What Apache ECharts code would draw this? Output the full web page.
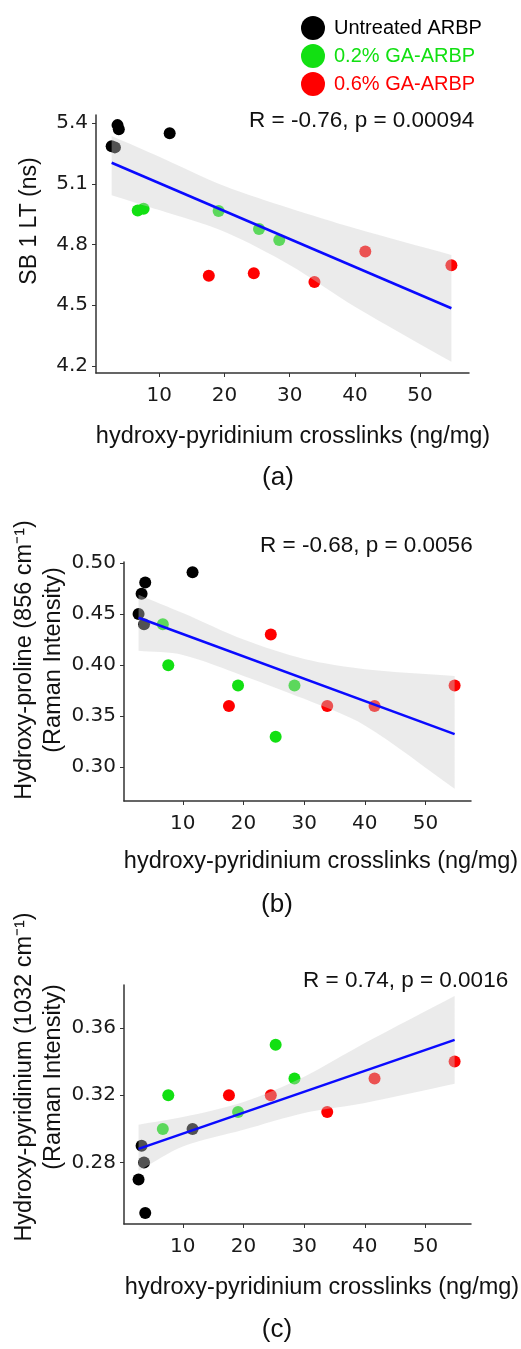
<!DOCTYPE html>
<html>
<head>
<meta charset="utf-8">
<script src="https://cdn.jsdelivr.net/npm/echarts@6/dist/echarts.min.js"></script>
<style>
  html, body { margin: 0; padding: 0; background: #fff; }
  #chart { width: 521px; height: 1349px; }
</style>
</head>
<body>
<div id="chart"></div>
<script>
// groups (legend)
const groups = ['Untreated ARBP', '0.2% GA-ARBP', '0.6% GA-ARBP'];

// x: hydroxy-pyridinium crosslinks (ng/mg), same samples in every panel
const untreatedX = [2.7, 3.2, 3.6, 3.8, 11.6];
const ga02X = [6.7, 7.6, 19.1, 25.3, 28.4];
const ga06X = [17.6, 24.5, 33.8, 41.6, 54.8];

// (a) SB 1 LT (ns)
const sbUntreated = [5.286, 5.28, 5.39, 5.37, 5.35];
const sbGa02 = [4.968, 4.977, 4.965, 4.877, 4.822];
const sbGa06 = [4.646, 4.658, 4.615, 4.766, 4.697];
// (b) Hydroxy-proline 856 cm-1
const hypUntreated = [0.45, 0.47, 0.44, 0.481, 0.491];
const hypGa02 = [0.44, 0.40, 0.38, 0.33, 0.38];
const hypGa06 = [0.36, 0.43, 0.36, 0.36, 0.38];
// (c) Hydroxy-pyridinium 1032 cm-1
const hpyUntreated = [0.27, 0.29, 0.28, 0.25, 0.30];
const hpyGa02 = [0.30, 0.32, 0.31, 0.35, 0.33];
const hpyGa06 = [0.32, 0.32, 0.31, 0.33, 0.34];

// fitted lines (ends)
const fitX = [2.7, 54.8];
const sbFit = [5.204, 4.485];
const hypFit = [0.4464, 0.3325];
const hpyFit = [0.2881, 0.3529];

// confidence band edges
const bandX = [2.7, 10, 20, 30, 40, 54.8];
const sbUpper = [5.336, 5.234, 5.089, 4.979, 4.880, 4.748];
const sbLower = [5.044, 4.970, 4.863, 4.699, 4.493, 4.221];
const hypUpper = [0.469, 0.451, 0.425, 0.406, 0.396, 0.3895];
const hypLower = [0.414, 0.410, 0.3895, 0.367, 0.341, 0.279];
const hpyUpper = [0.3025, 0.307, 0.316, 0.331, 0.351, 0.379];
const hpyLower = [0.275, 0.2895, 0.2995, 0.3095, 0.3154, 0.3268];

// tick labels
const xTicks = [10, 20, 30, 40, 50];
const sbTicks = [4.2, 4.5, 4.8, 5.1, 5.4];
const hypTicks = [0.30, 0.35, 0.40, 0.45, 0.50];
const hpyTicks = [0.28, 0.32, 0.36];

const stats = ['R = -0.76, p = 0.00094', 'R = -0.68, p = 0.0056', 'R = 0.74, p = 0.0016'];

const groupColors = ['#000000', '#12e012', '#ff0000'];
const xs = [untreatedX, ga02X, ga06X];

const panels = [
  { ys: [sbUntreated, sbGa02, sbGa06], fit: sbFit, upper: sbUpper, lower: sbLower,
    ticks: sbTicks, dec: 1, min: 4.165, max: 5.44,
    grid: { left: 96, top: 115, width: 373, height: 258 } },
  { ys: [hypUntreated, hypGa02, hypGa06], fit: hypFit, upper: hypUpper, lower: hypLower,
    ticks: hypTicks, dec: 2, min: 0.267, max: 0.501,
    grid: { left: 124, top: 562, width: 347, height: 239 } },
  { ys: [hpyUntreated, hpyGa02, hpyGa06], fit: hpyFit, upper: hpyUpper, lower: hpyLower,
    ticks: hpyTicks, dec: 2, min: 0.2435, max: 0.3855,
    grid: { left: 124, top: 985, width: 347, height: 239 } }
];

const axisColor = '#333';
const labelFont = { fontFamily: 'DejaVu Sans', fontSize: 20, color: '#1a1a1a' };
const textFont = 'Liberation Sans';

const series = [];
panels.forEach((p, i) => {
  groups.forEach((g, k) => {
    series.push({
      name: g, type: 'scatter', xAxisIndex: i, yAxisIndex: i, z: 2,
      symbolSize: 12,
      itemStyle: { color: groupColors[k], opacity: 1 },
      data: xs[k].map((x, j) => [x, p.ys[k][j]])
    });
  });
  // grey band drawn over the points, like the original
  series.push({
    type: 'custom', xAxisIndex: i, yAxisIndex: i, z: 3, silent: true,
    data: [[bandX[0], p.upper[0]]],
    renderItem: (params, api) => {
      const top = bandX.map((x, j) => api.coord([x, p.upper[j]]));
      const bot = bandX.map((x, j) => api.coord([x, p.lower[j]])).reverse();
      // repeat the four corners so the smoothing keeps the ends square
      const n = top.length - 1;
      const pts = [top[0]].concat(top, [top[n], bot[0]], bot, [bot[n]]);
      const box = [
        [Math.min(...pts.map(q => q[0])), Math.min(...pts.map(q => q[1]))],
        [Math.max(...pts.map(q => q[0])), Math.max(...pts.map(q => q[1]))]
      ];
      return {
        type: 'polygon',
        shape: { points: pts, smooth: 0.3, smoothConstraint: box },
        style: { fill: 'rgba(205,205,205,0.4)' }
      };
    }
  });
  series.push({
    type: 'line', xAxisIndex: i, yAxisIndex: i, z: 4, symbol: 'none',
    lineStyle: { color: '#0a0aff', width: 2.5 },
    data: fitX.map((x, j) => [x, p.fit[j]])
  });
});

const texts = [
  // stats
  { x: 249, y: 121, t: stats[0], size: 22.5 },
  { x: 260, y: 546, t: stats[1], size: 22.5 },
  { x: 303, y: 981, t: stats[2], size: 22.5 },
  // x titles
  { x: 293, y: 437, t: 'hydroxy-pyridinium crosslinks (ng/mg)', size: 23.5, align: 'center' },
  { x: 321, y: 862, t: 'hydroxy-pyridinium crosslinks (ng/mg)', size: 23.5, align: 'center' },
  { x: 322, y: 1288, t: 'hydroxy-pyridinium crosslinks (ng/mg)', size: 23.5, align: 'center' },
  // captions
  { x: 278, y: 478, t: '(a)', size: 26, align: 'center' },
  { x: 277, y: 905, t: '(b)', size: 26, align: 'center' },
  { x: 277, y: 1330, t: '(c)', size: 26, align: 'center' },
  // y titles
  { x: 30, y: 221, t: 'SB 1 LT (ns)', size: 23, align: 'center', rot: true },
  { x: 25, y: 660, t: 'Hydroxy-proline (856 cm⁻¹)', size: 23.5, align: 'center', rot: true },
  { x: 54, y: 660, t: '(Raman Intensity)', size: 23.5, align: 'center', rot: true },
  { x: 25, y: 1077, t: 'Hydroxy-pyridinium (1032 cm⁻¹)', size: 23.5, align: 'center', rot: true },
  { x: 54, y: 1077, t: '(Raman Intensity)', size: 23.5, align: 'center', rot: true }
];

const option = {
  backgroundColor: '#fff',
  animation: false,
  legend: {
    orient: 'vertical', left: 296, top: 11,
    itemWidth: 24, itemHeight: 24, itemGap: 4, icon: 'circle',
    textStyle: { fontFamily: textFont, fontSize: 20, padding: [0, 0, 0, 4] },
    data: groups.map((g, k) => ({ name: g, textStyle: { color: groupColors[k] } }))
  },
  grid: panels.map(p => p.grid),
  xAxis: panels.map((p, i) => ({
    gridIndex: i, type: 'value', min: 0.3, max: 57.5,
    axisLine: { show: true, onZero: false, lineStyle: { color: axisColor, width: 1.5 } },
    axisTick: { show: true, length: 4, customValues: xTicks, lineStyle: { color: axisColor } },
    axisLabel: Object.assign({ customValues: xTicks, margin: 13 }, labelFont),
    splitLine: { show: false }
  })),
  yAxis: panels.map((p, i) => ({
    gridIndex: i, type: 'value', min: p.min, max: p.max,
    axisLine: { show: true, onZero: false, lineStyle: { color: axisColor, width: 1.5 } },
    axisTick: { show: true, length: 4, customValues: p.ticks, lineStyle: { color: axisColor } },
    axisLabel: Object.assign({ customValues: p.ticks, margin: 8,
      formatter: v => v.toFixed(p.dec) }, labelFont),
    splitLine: { show: false }
  })),
  series: series,
  graphic: texts.map(d => ({
    type: 'text', x: d.x, y: d.y, rotation: d.rot ? Math.PI / 2 : 0, silent: true,
    style: {
      text: d.t, fill: '#111', font: d.size + 'px "' + textFont + '"',
      textAlign: d.align || 'left', textVerticalAlign: 'middle'
    }
  }))
};

const chart = echarts.init(document.getElementById('chart'));
chart.setOption(option);
</script>
</body>
</html>
